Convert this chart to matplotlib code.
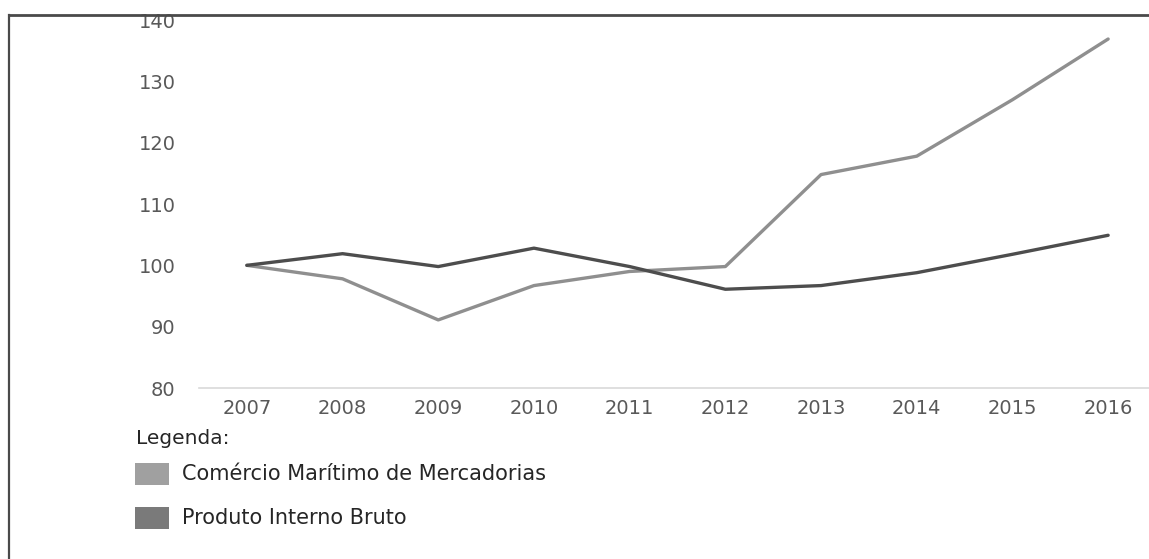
import matplotlib
matplotlib.use("Agg")
import matplotlib.pyplot as plt
from matplotlib.lines import Line2D
from matplotlib.patches import Rectangle

years = ["2007", "2008", "2009", "2010", "2011", "2012", "2013", "2014", "2015", "2016"]
comercio = [100, 97.8, 91.1, 96.7, 99.0, 99.8, 114.8, 117.8, 127.0, 136.9]
pib = [100, 101.9, 99.8, 102.8, 99.8, 96.1, 96.7, 98.8, 101.8, 104.9]
yticks = [80, 90, 100, 110, 120, 130, 140]
legend_title = "Legenda:"
legend_labels = ["Comércio Marítimo de Mercadorias", "Produto Interno Bruto"]

plt.rcParams['font.family'] = ['DejaVu Sans']

W, H = 1149, 559
fig = plt.figure(figsize=(W / 100, H / 100), dpi=100)

def fx(px):
    return px / W

def fy(py):
    return 1 - py / H

ax = fig.add_axes([fx(199), fy(388), fx(1156) - fx(199), fy(20) - fy(388)])
x = list(range(len(years)))
ax.plot(x, comercio, color="#8f8f8f", lw=2.4, solid_capstyle="round", zorder=3)
ax.plot(x, pib, color="#4d4d4d", lw=2.4, solid_capstyle="round", zorder=4)
ax.set_xlim(-0.5, len(years) - 0.5)
ax.set_ylim(80, 140)
ax.set_yticks(yticks)
ax.set_xticks(x)
ax.set_xticklabels(years)
for s in ["top", "right", "left"]:
    ax.spines[s].set_visible(False)
ax.spines["bottom"].set_color("#d9d9d9")
ax.spines["bottom"].set_linewidth(1.2)
ax.tick_params(axis="both", length=0, labelsize=14, labelcolor="#595959")
ax.tick_params(axis="y", pad=17)
ax.tick_params(axis="x", pad=8)
ax.patch.set_alpha(0)

# frame lines (top and left)
fig.add_artist(Line2D([fx(9), 1], [fy(15), fy(15)], color="#4a4a4a", lw=2.0))
fig.add_artist(Line2D([fx(9), fx(9)], [fy(15), 0], color="#4a4a4a", lw=1.6))

# legend
fig.text(fx(136), fy(438), legend_title, fontsize=14.5, color="#262626", va="center", ha="left")
colors = ["#a0a0a0", "#7a7a7a"]
ys = [473.5, 517.5]
for lab, c, yy in zip(legend_labels, colors, ys):
    fig.add_artist(Rectangle((fx(135), fy(yy + 11)), 34 / W, 22 / H,
                             facecolor=c, edgecolor="none", transform=fig.transFigure))
    fig.text(fx(182), fy(yy), lab, fontsize=15, color="#262626", va="center", ha="left")

fig.savefig("out.png", dpi=100)
